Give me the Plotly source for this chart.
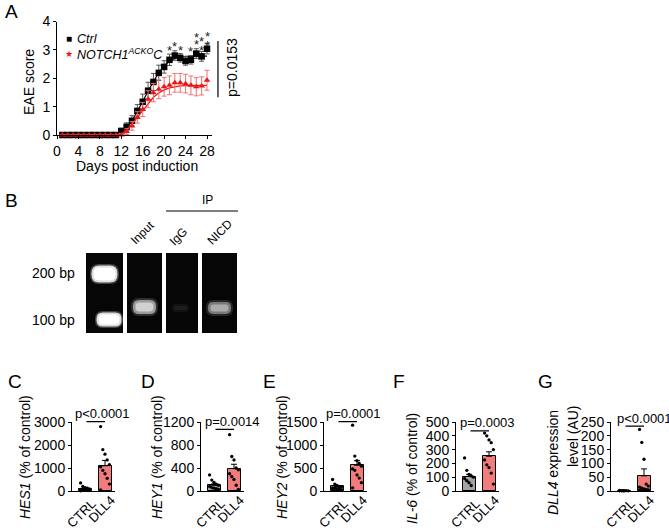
import plotly.graph_objects as go

W, H = 669, 528
def px(x): return x / W
def py(y): return 1 - y / H

FONT = "Arial, Liberation Sans, sans-serif"

# ---------------- Panel A data ----------------
days = list(range(1, 29))
ctrl_mean = [0]*11 + [0.14, 0.29, 0.5, 0.85, 1.17, 1.56, 1.87, 2.19, 2.4, 2.65, 2.8, 2.72, 2.61, 2.65, 2.87, 2.77, 3.04]
ctrl_sem = [0]*11 + [0.1, 0.14, 0.18, 0.22, 0.27, 0.3, 0.3, 0.27, 0.22, 0.2, 0.17, 0.15, 0.15, 0.15, 0.17, 0.17, 0.18]
notch_mean = [0]*11 + [0.0, 0.12, 0.32, 0.62, 0.9, 1.26, 1.49, 1.61, 1.7, 1.75, 1.84, 1.84, 1.81, 1.75, 1.7, 1.73, 1.93]
notch_sem = [0]*11 + [0.05, 0.1, 0.15, 0.2, 0.25, 0.3, 0.32, 0.33, 0.33, 0.33, 0.33, 0.33, 0.33, 0.33, 0.32, 0.32, 0.35]
fit_ctrl = [0]*11 + [0.08, 0.26, 0.5, 0.82, 1.18, 1.55, 1.9, 2.2, 2.44, 2.6, 2.7, 2.75, 2.77, 2.78, 2.78, 2.78, 2.78]
fit_notch = [0]*11 + [0.04, 0.18, 0.38, 0.62, 0.88, 1.12, 1.33, 1.48, 1.59, 1.66, 1.7, 1.73, 1.74, 1.75, 1.75, 1.75, 1.75]
star_days = [21, 22, 23, 25, 26, 26, 27, 27, 28, 28]
star_levels = [3.1, 3.24, 3.08, 3.06, 3.54, 3.31, 3.39, 3.1, 3.57, 3.27]
p_eae = "p=0.0153"

# ---------------- Panels C-G data ----------------
cats = ["CTRL", "DLL4"]
panels = [
    dict(title="<i>HES1</i> (% of control)", mean=[100, 1100], sem=[30, 230],
         ctrl=[350, 200, 150, 120, 90, 70, 50, 40, 30, 20, 10],
         dll4=[2800, 1800, 1600, 1350, 1150, 1050, 900, 750, 550, 300, 50],
         ticks=[0, 1000, 2000, 3000], p="p<0.0001", pline=3013),
    dict(title="<i>HEY1</i> (% of control)", mean=[100, 390], sem=[22, 75],
         ctrl=[280, 190, 150, 120, 100, 80, 60, 50, 40, 30],
         dll4=[980, 600, 540, 400, 370, 300, 250, 200, 100, 30],
         ticks=[0, 400, 800, 1200], p="p=0.0014", pline=1073),
    dict(title="<i>HEY2</i> (% of control)", mean=[100, 560], sem=[15, 100],
         ctrl=[250, 150, 120, 100, 90, 70, 60, 50, 40, 30, 20],
         dll4=[1430, 760, 660, 600, 540, 480, 450, 350, 280, 180, 70],
         ticks=[0, 500, 1000, 1500], p="p=0.0001", pline=1507),
    dict(title="<i>IL-6</i> (% of control)", mean=[105, 252], sem=[16, 32],
         ctrl=[240, 150, 120, 110, 100, 90, 75, 60, 40],
         dll4=[420, 400, 370, 350, 300, 225, 190, 170, 130, 50],
         ticks=[0, 100, 200, 300, 400, 500], p="p=0.0003", pline=435),
    dict(title=None, mean=[1, 55], sem=[0.3, 25],
         ctrl=[2, 1.5, 1, 1, 0.8, 0.6, 0.5, 0.5],
         dll4=[223, 176, 115, 25, 18, 14, 10, 8, 6, 4, 3],
         ticks=[0, 50, 100, 150, 200, 250], p="p<0.0001", pline=235),
]

# layout geometry (pixels)
axis_left = [72, 201, 324, 456, 611]
ytitle_x = [25, 157, 282, 412, None]
ytitle_y = [457, 457, 457, 469, None]
ptext_x = [0.875, 0.93, 0.83, 0.9, 1.0]
letters = [("C", 6), ("D", 139), ("E", 261), ("F", 391), ("G", 536)]

fig = go.Figure()
annotations = []
shapes = []

def ann(**kw):
    d = dict(showarrow=False, xanchor="center", yanchor="middle")
    d.update(kw)
    if "font" not in d:
        d["font"] = dict(size=14, color="black", family=FONT)
    annotations.append(d)

def pann(x, y, text, size=14, **kw):
    ann(x=px(x), y=py(y), xref="paper", yref="paper", text=text,
        font=dict(size=size, color=kw.pop("color", "black"), family=FONT), **kw)

# ---------------- Panel A traces ----------------
BLACK = "#000000"
RED = "#f01414"
fig.add_trace(go.Scatter(x=days, y=fit_ctrl, mode="lines", line=dict(color=BLACK, width=1.2),
                         xaxis="x", yaxis="y", hoverinfo="skip", cliponaxis=False))
fig.add_trace(go.Scatter(x=days, y=ctrl_mean, mode="markers",
                         marker=dict(symbol="square", size=6.5, color=BLACK),
                         error_y=dict(type="data", array=ctrl_sem, color="#555555", thickness=1, width=2.5),
                         xaxis="x", yaxis="y", cliponaxis=False))
fig.add_trace(go.Scatter(x=days, y=fit_notch, mode="lines", line=dict(color=RED, width=1.2),
                         xaxis="x", yaxis="y", hoverinfo="skip", cliponaxis=False))
fig.add_trace(go.Scatter(x=days, y=notch_mean, mode="markers",
                         marker=dict(symbol="triangle-up", size=6, color=RED),
                         error_y=dict(type="data", array=notch_sem, color="#f07070", thickness=1, width=2.5),
                         xaxis="x", yaxis="y", cliponaxis=False))

for d, lv in zip(star_days, star_levels):
    ann(x=d, y=lv, xref="x", yref="y", text="*", yshift=-3,
        font=dict(size=13, color="#222222", family=FONT))

# p-value bracket for A (x in domain units: day 30.05 of a 0-29 range)
XA_MAX = 29
annotations.append(dict(x=30.05 / XA_MAX, y=1.33, ax=30.05 / XA_MAX, ay=3.37, xref="x domain", yref="y",
                        axref="x domain", ayref="y",
                        text="", showarrow=True, arrowhead=0, arrowwidth=1.2, arrowcolor="black"))
pann(232, 68, p_eae, textangle=-90)
# legend
pann(69, 39, "■", size=10)
pann(69, 54, "★", size=9, color=RED)
pann(75, 39, "<i>Ctrl</i>", size=12.5, xanchor="left")
pann(75, 54, "<i>NOTCH1<sup>ACKO</sup>C</i>", size=12.5, xanchor="left")
# axis titles A
pann(29, 82, "EAE score", textangle=-90)
pann(137, 166, "Days post induction")

axcommon = dict(showline=True, linecolor="black", linewidth=1, ticks="outside", ticklen=3, tickwidth=1,
                tickcolor="black", showgrid=False, zeroline=False, fixedrange=True, automargin=False,
                tickfont=dict(size=14, color="black", family=FONT))

layout_axes = {}
layout_axes["xaxis"] = dict(axcommon, domain=[px(57), px(57 + XA_MAX * 5.357)], range=[0, XA_MAX],
                            tickvals=list(range(0, 29, 4)), anchor="y")
layout_axes["yaxis"] = dict(axcommon, domain=[py(135), py(21.5)], range=[0, 4], tickvals=[0, 1, 2, 3, 4],
                            anchor="x")

# ---------------- Panels C-G ----------------
for i, pdat in enumerate(panels):
    k = i + 2
    xa, ya = f"x{k}", f"y{k}"
    A = axis_left[i]
    fig.add_trace(go.Bar(x=[0, 1], y=pdat["mean"], width=0.65,
                         marker=dict(color=["#a3a3a3", "#f27c7c"], line=dict(color="black", width=1)),
                         error_y=dict(type="data", array=pdat["sem"], arrayminus=[0, 0], symmetric=False,
                                      color="black", thickness=1, width=3),
                         xaxis=xa, yaxis=ya))
    for j, key in enumerate(["ctrl", "dll4"]):
        vals = pdat[key]
        n = len(vals)
        xs = [j + ((m % 5) - 2) * 0.11 for m in range(n)]
        fig.add_trace(go.Scatter(x=xs, y=vals, mode="markers", marker=dict(size=3.3, color="black"),
                                 xaxis=xa, yaxis=ya, cliponaxis=False))
    top = pdat["ticks"][-1]
    layout_axes[f"xaxis{k}"] = dict(axcommon, domain=[px(A), px(A + 43)], range=[-0.65, 1.5],
                                    tickvals=[0, 1], showticklabels=False, ticks="", anchor=ya)
    layout_axes[f"yaxis{k}"] = dict(axcommon, domain=[py(491), py(422)], range=[0, top],
                                    tickvals=pdat["ticks"], anchor=xa)
    # category labels, rotated
    for j, c in enumerate(cats):
        ann(x=j, y=py(513 if j == 0 else 509), xref=xa, yref="paper", text=c, textangle=-45,
            xshift=-4, font=dict(size=13, color="black", family=FONT))
    # significance line (y in domain units of this axis)
    frac = pdat["pline"] / top
    annotations.append(dict(x=1, y=frac, ax=0, ay=frac, xref=xa, yref=f"{ya} domain", axref=xa,
                            ayref=f"{ya} domain", text="", showarrow=True, arrowhead=0, arrowwidth=1.3,
                            arrowcolor="black"))
    ann(x=ptext_x[i], y=frac, xref=xa, yref=f"{ya} domain", text=pdat["p"], yshift=8,
        font=dict(size=13, color="black", family=FONT))
    if pdat["title"]:
        pann(ytitle_x[i], ytitle_y[i], pdat["title"], textangle=-90)

# G two-line title
pann(553, 463, "<i>DLL4</i> expression", textangle=-90)
pann(573, 437, "level (AU)", textangle=-90)

# panel letters
for lt, x, y in [("A", 3, 11), ("B", 3, 201)] + [(l, x, 381) for l, x in letters]:
    pann(x, y, lt, size=19, xanchor="left")

# ---------------- Panel B (gel) ----------------
lanes = [(86, 123), (127, 162), (166, 198), (202, 237)]
for x0, x1 in lanes:
    shapes.append(dict(type="rect", xref="paper", yref="paper", x0=px(x0), x1=px(x1), y0=py(333), y1=py(253),
                       fillcolor="#060606", line=dict(width=0), layer="above"))

def rrect_path(x0, x1, y0, y1, r):
    X = lambda v: f"{px(v):.5f}"
    Y = lambda v: f"{py(v):.5f}"
    return (f"M {X(x0 + r)},{Y(y0)} L {X(x1 - r)},{Y(y0)} Q {X(x1)},{Y(y0)} {X(x1)},{Y(y0 + r)} "
            f"L {X(x1)},{Y(y1 - r)} Q {X(x1)},{Y(y1)} {X(x1 - r)},{Y(y1)} "
            f"L {X(x0 + r)},{Y(y1)} Q {X(x0)},{Y(y1)} {X(x0)},{Y(y1 - r)} "
            f"L {X(x0)},{Y(y0 + r)} Q {X(x0)},{Y(y0)} {X(x0 + r)},{Y(y0)} Z")

def band(x0, x1, y0, y1, layers):
    for (d, col, op) in layers:
        r = max(1.5, (y1 - y0 + 2 * d) / 2.2)
        shapes.append(dict(type="path", xref="paper", yref="paper",
                           path=rrect_path(x0 - d, x1 + d, y0 - d, y1 + d, r),
                           fillcolor=col, opacity=op, line=dict(width=0), layer="above"))

band(92, 117, 266, 282, [(2, "#6a6a6a", 0.6), (0.5, "#dddddd", 1), (-1.5, "#ffffff", 1)])
band(97, 121, 313, 326, [(2, "#6a6a6a", 0.6), (0.5, "#dddddd", 1), (-1.5, "#ffffff", 1)])
band(133, 156, 300, 314, [(2, "#3a3a3a", 0.8), (0, "#9a9a9a", 1), (-2.5, "#d0d0d0", 1)])
band(173, 188, 305, 311, [(1, "#121212", 1), (-1, "#1c1c1c", 1)])
band(208, 231, 302, 314, [(2, "#2e2e2e", 0.8), (0, "#7a7a7a", 1), (-2.5, "#ababab", 1)])

pann(53, 273, "200 bp")
pann(53, 320, "100 bp")
for txt, x, y in [("Input", 142, 233), ("IgG", 178, 237), ("NICD", 220, 232)]:
    pann(x, y, txt, size=12, textangle=-45)
pann(207, 200, "IP", size=12)
shapes.append(dict(type="line", xref="paper", yref="paper", x0=px(166), x1=px(238), y0=py(211), y1=py(211),
                   line=dict(color="black", width=1.2)))

fig.update_layout(width=W, height=H, margin=dict(l=0, r=0, t=0, b=0, autoexpand=False),
                  paper_bgcolor="white",
                  plot_bgcolor="white", showlegend=False, annotations=annotations, shapes=shapes,
                  font=dict(family=FONT, color="black"), bargap=0, **layout_axes)

fig.write_html("out.html", config={"displayModeBar": False},
               post_script="document.body.style.margin='0px';document.body.style.overflow='hidden';")
